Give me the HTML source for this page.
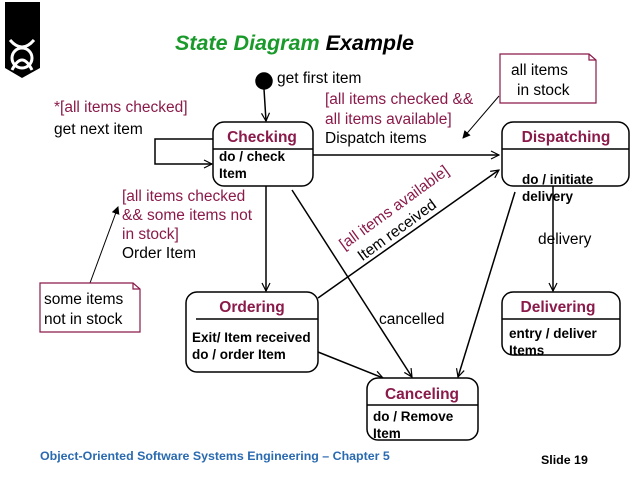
<!DOCTYPE html>
<html><head><style>body{margin:0;background:#fff}svg{display:block}</style></head><body>
<svg width="638" height="479" viewBox="0 0 638 479" xmlns="http://www.w3.org/2000/svg" font-family="Liberation Sans, Arial, sans-serif">
<defs><marker id="a" markerWidth="10" markerHeight="10" refX="9" refY="5" orient="auto" markerUnits="userSpaceOnUse"><path d="M1,1 L9,5 L1,9" fill="none" stroke="#000" stroke-width="1.2"/></marker>
<marker id="b" markerWidth="8" markerHeight="8" refX="7" refY="4" orient="auto" markerUnits="userSpaceOnUse"><path d="M0,0 L8,4 L0,8z" fill="#000"/></marker></defs>
<path d="M5,2 H40 V68 L22,78 L5,68 Z" fill="#000"/>
<g fill="none" stroke="#fff" stroke-width="3"><circle cx="22" cy="58" r="10"/><path d="M10,40 Q22,54 34,40"/><path d="M12,70 Q22,50 32,70"/></g>
<text x="175" y="50" font-size="21.5" font-weight="bold" font-style="italic" fill="#1a9a2a">State Diagram <tspan fill="#000">Example</tspan></text>
<g stroke="#000" stroke-width="1.5" fill="none">
<circle cx="264" cy="81" r="8" fill="#000"/>
<line x1="264" y1="89" x2="266" y2="121" marker-end="url(#a)"/>
<path d="M213,139 H155 V164 H212" marker-end="url(#a)"/>
<line x1="313" y1="155" x2="499" y2="155" marker-end="url(#a)"/>
<line x1="266" y1="186" x2="266" y2="291" marker-end="url(#a)"/>
<line x1="318" y1="298" x2="499" y2="170" marker-end="url(#a)"/>
<line x1="292" y1="190" x2="412" y2="377" marker-end="url(#a)"/>
<line x1="515" y1="192" x2="458" y2="377" marker-end="url(#a)"/>
<line x1="318" y1="352" x2="383" y2="378" marker-end="url(#a)"/>
<line x1="553" y1="186" x2="553" y2="291" marker-end="url(#a)"/>
<rect x="213" y="122" width="100" height="64" rx="11" fill="#fff"/><line x1="213" y1="149" x2="313" y2="149"/>
<rect x="502" y="122" width="127" height="64" rx="11" fill="#fff"/><line x1="502" y1="149" x2="629" y2="149"/>
<rect x="186" y="292" width="132" height="80" rx="11" fill="#fff"/><line x1="196" y1="319" x2="318" y2="319"/>
<rect x="367" y="378" width="111" height="62" rx="11" fill="#fff"/><line x1="367" y1="405" x2="478" y2="405"/>
<rect x="502" y="292" width="118" height="63" rx="11" fill="#fff"/><line x1="502" y1="319" x2="620" y2="319"/>
</g>
<g stroke="#000" stroke-width="1" fill="none"><line x1="499" y1="96" x2="463" y2="138" marker-end="url(#b)"/><line x1="90" y1="283" x2="118" y2="207" marker-end="url(#b)"/></g>
<g stroke="#8a1a4a" stroke-width="1.2" fill="#fff"><path d="M500,54 H589 L596,60 V103 H500 Z"/><path d="M589,54 V60 H596" fill="none"/>
<path d="M40,283 H133 L140,289 V332 H40 Z"/><path d="M133,283 V289 H140" fill="none"/></g>
<g font-size="15.5" fill="#8a1a4a" font-weight="bold" text-anchor="middle">
<text x="262" y="142">Checking</text><text x="566" y="142">Dispatching</text><text x="252" y="312">Ordering</text><text x="422" y="399">Canceling</text><text x="558" y="312">Delivering</text></g>
<g font-size="13.5" font-weight="bold" fill="#000">
<text x="219" y="161">do / check</text><text x="219" y="178">Item</text>
<text x="522" y="184">do / initiate</text><text x="522" y="201">delivery</text>
<text x="192" y="342">Exit/ Item received</text><text x="192" y="359">do / order Item</text>
<text x="373" y="421">do / Remove</text><text x="373" y="438">Item</text>
<text x="509" y="338">entry / deliver</text><text x="509" y="355">Items</text></g>
<g font-size="15.5" fill="#000">
<text x="277" y="83">get first item</text>
<text x="54" y="112" fill="#8a1a4a">*[all items checked]</text><text x="54" y="134">get next item</text>
<text x="325" y="104" fill="#8a1a4a">[all items checked &amp;&amp;</text><text x="325" y="124" fill="#8a1a4a">all items available]</text><text x="325" y="143">Dispatch items</text>
<text x="511" y="75">all items</text><text x="517" y="95">in stock</text>
<text x="122" y="201" fill="#8a1a4a">[all items checked</text><text x="122" y="220" fill="#8a1a4a">&amp;&amp; some items not</text><text x="122" y="239" fill="#8a1a4a">in stock]</text><text x="122" y="258">Order Item</text>
<text x="44" y="304">some items</text><text x="44" y="324">not in stock</text>
<text x="538" y="244">delivery</text>
<text x="379" y="324">cancelled</text>
<g transform="translate(344,250) rotate(-36)"><text x="0" y="0" fill="#8a1a4a">[all items available]</text><text x="8" y="20">Item received</text></g>
</g>
<text x="40" y="460" font-size="12.4" font-weight="bold" fill="#2a6ab0">Object-Oriented Software Systems Engineering – Chapter 5</text>
<text x="541" y="464" font-size="12.4" font-weight="bold" fill="#000">Slide 19</text>
</svg>
</body></html>
